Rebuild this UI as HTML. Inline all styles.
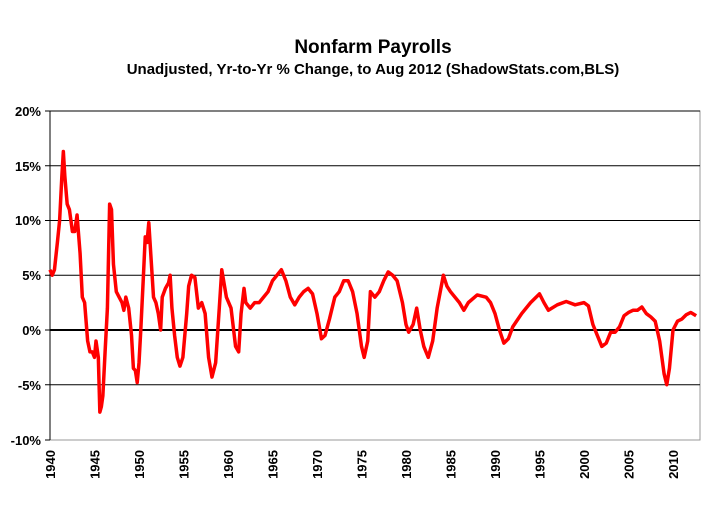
<!DOCTYPE html>
<html><head><style>
body{margin:0;background:#fff;}
svg{display:block;font-family:"Liberation Sans",Arial,sans-serif;font-weight:bold;}
</style></head><body>
<svg width="721" height="505" viewBox="0 0 721 505">
<text x="373" y="53" font-size="19" text-anchor="middle">Nonfarm Payrolls</text>
<text x="373" y="74" font-size="15" text-anchor="middle">Unadjusted, Yr-to-Yr % Change, to Aug 2012 (ShadowStats.com,BLS)</text>
<rect x="50" y="111" width="650" height="329" fill="none" stroke="#999" stroke-width="1"/>
<g stroke="#000" stroke-width="1">
<line x1="50" y1="111" x2="700" y2="111"/>
<line x1="50" y1="165.75" x2="700" y2="165.75"/>
<line x1="50" y1="220.5" x2="700" y2="220.5"/>
<line x1="50" y1="275.25" x2="700" y2="275.25"/>
<line x1="50" y1="384.75" x2="700" y2="384.75"/>
<line x1="50" y1="111" x2="50" y2="440"/>
</g>
<g stroke="#000" stroke-width="1">
<line x1="45" y1="111" x2="50" y2="111"/><line x1="45" y1="165.75" x2="50" y2="165.75"/><line x1="45" y1="220.5" x2="50" y2="220.5"/><line x1="45" y1="275.25" x2="50" y2="275.25"/><line x1="45" y1="330" x2="50" y2="330"/><line x1="45" y1="384.75" x2="50" y2="384.75"/><line x1="45" y1="440" x2="50" y2="440"/>
</g>
<line x1="50" y1="330" x2="700" y2="330" stroke="#000" stroke-width="2"/>
<g id="ticks" stroke="#000" stroke-width="1.5"></g>
<g font-size="13" text-anchor="end">
<text x="41" y="116">20%</text><text x="41" y="171">15%</text><text x="41" y="225">10%</text><text x="41" y="280">5%</text><text x="41" y="335">0%</text><text x="41" y="390">-5%</text><text x="41" y="445">-10%</text>
</g>
<g font-size="13" text-anchor="end">
<text transform="translate(55,450) rotate(-90)">1940</text>
<text transform="translate(99.5,450) rotate(-90)">1945</text>
<text transform="translate(144,450) rotate(-90)">1950</text>
<text transform="translate(188.5,450) rotate(-90)">1955</text>
<text transform="translate(233,450) rotate(-90)">1960</text>
<text transform="translate(277.5,450) rotate(-90)">1965</text>
<text transform="translate(322,450) rotate(-90)">1970</text>
<text transform="translate(366.5,450) rotate(-90)">1975</text>
<text transform="translate(411,450) rotate(-90)">1980</text>
<text transform="translate(455.5,450) rotate(-90)">1985</text>
<text transform="translate(500,450) rotate(-90)">1990</text>
<text transform="translate(544.5,450) rotate(-90)">1995</text>
<text transform="translate(589,450) rotate(-90)">2000</text>
<text transform="translate(633.5,450) rotate(-90)">2005</text>
<text transform="translate(678,450) rotate(-90)">2010</text>
</g>
<g transform="translate(50,330) scale(8.9,-10.95)">
<polyline fill="none" stroke="#f00" stroke-width="3.5" vector-effect="non-scaling-stroke" stroke-linejoin="round" points="
0,5.5 0.25,5 0.5,5.5 0.83,8 1.08,10 1.33,14 1.5,16.3 1.67,14 1.93,11.5 2.18,11 2.52,9 2.78,9 3.04,10.5 3.38,7 3.63,3 3.89,2.5 4.23,-1 4.49,-2 4.75,-2 5.0,-2.5 5.17,-1 5.43,-2.5 5.6,-7.5 5.77,-7 5.94,-6 6.19,-2 6.45,2 6.7,11.5 6.91,11 7.13,6 7.45,3.5 7.77,3 8.09,2.5 8.3,1.8 8.52,3 8.84,2 9.16,-0.5 9.37,-3.5 9.59,-3.7 9.8,-4.8 10,-3 10.2,0 10.5,5 10.7,8.5 10.9,8 11.1,9.8 11.28,7.5 11.63,3 11.9,2.5 12.17,1.5 12.43,0 12.61,3 12.97,3.8 13.32,4.3 13.5,5 13.7,2 14.0,-0.5 14.3,-2.5 14.6,-3.3 14.93,-2.5 15.36,1.5 15.58,4 15.9,5 16.28,4.8 16.67,2 17.05,2.5 17.43,1.5 17.82,-2.5 18.2,-4.3 18.61,-3 19.02,2 19.3,5.5 19.82,3 20.34,2 20.85,-1.5 21.2,-2 21.47,1.5 21.8,3.8 22,2.5 22.5,2 23,2.5 23.5,2.5 24,3 24.5,3.5 25,4.5 25.5,5 26,5.5 26.5,4.5 27,3 27.5,2.3 28,3 28.5,3.5 29,3.8 29.5,3.3 30,1.5 30.5,-0.8 30.9,-0.5 31.4,1 32,3 32.5,3.5 33,4.5 33.5,4.5 34,3.5 34.5,1.5 35,-1.5 35.3,-2.5 35.7,-1 36,3.5 36.5,3 37,3.5 37.5,4.5 38,5.3 38.5,5 39,4.5 39.6,2.5 40,0.5 40.3,-0.2 40.8,0.5 41.2,2 41.6,0 42,-1.5 42.5,-2.5 43,-1 43.5,2 44.2,5 44.6,4 45,3.5 46,2.5 46.5,1.8 47,2.5 48,3.2 49,3 49.5,2.5 50,1.5 50.5,0 51,-1.2 51.5,-0.8 52,0.3 53,1.5 54,2.5 55,3.3 55.5,2.5 56,1.8 57,2.3 58,2.6 59,2.3 60,2.5 60.5,2.2 61,0.5 61.5,-0.5 62,-1.5 62.5,-1.2 63,-0.2 63.5,-0.2 64,0.3 64.5,1.3 65,1.6 65.5,1.8 66,1.8 66.5,2.1 67,1.5 67.5,1.2 68,0.8 68.5,-1 69,-4 69.3,-5 69.6,-3.5 70,0 70.5,0.8 71,1 71.5,1.4 72,1.6 72.6,1.3"/>
</g>
<script>
var g=document.getElementById('ticks');var s='';
for(var i=0;i<=73;i++){var x=50+i*8.9;s+='<line x1="'+x+'" y1="330" x2="'+x+'" y2="335"/>';}
g.innerHTML=s;
</script>
</svg>
</body></html>
